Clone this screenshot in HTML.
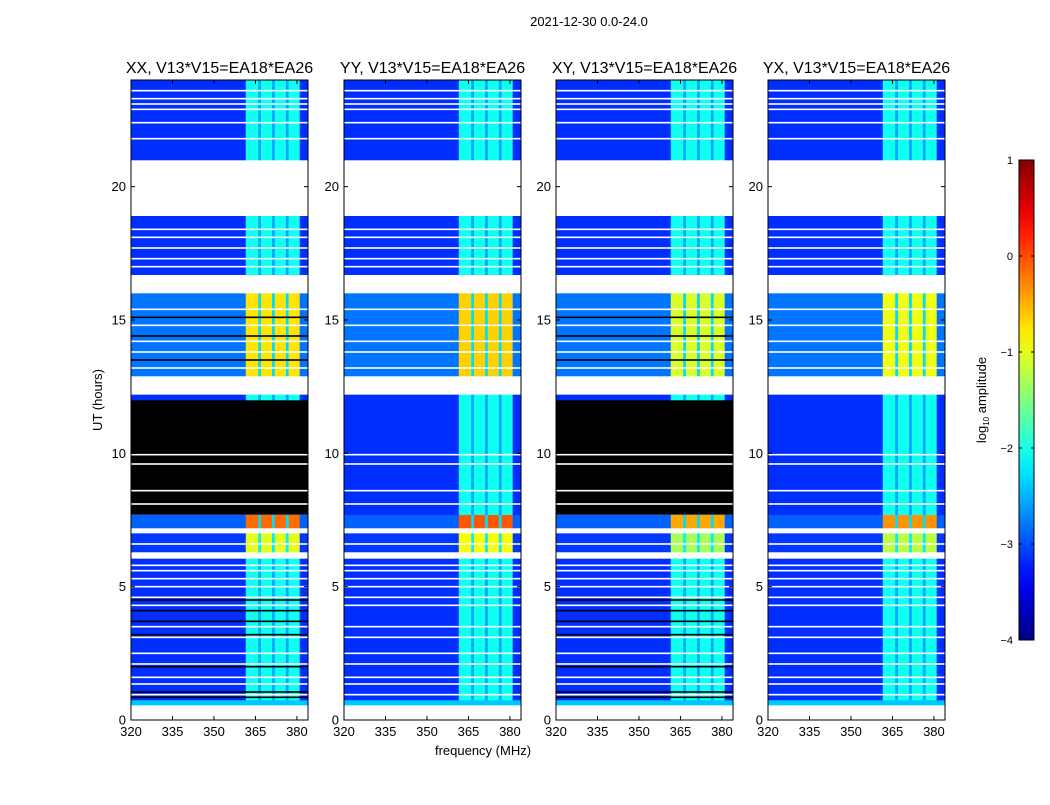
<!DOCTYPE html>
<html><head><meta charset="utf-8"><style>
body{margin:0;background:#fff;}
svg text{font-family:"Liberation Sans",sans-serif;fill:#000;}
</style></head><body>
<svg id="fig" width="1050" height="800" viewBox="0 0 1050 800" xmlns="http://www.w3.org/2000/svg">
<defs><linearGradient id="jetgrad" x1="0" y1="1" x2="0" y2="0"></linearGradient></defs>
<text x="589" y="26" font-size="13" text-anchor="middle">2021-12-30 0.0-24.0</text>
<text transform="translate(102,400) rotate(-90)" font-size="13" text-anchor="middle">UT (hours)</text>
<text x="483" y="755" font-size="13" text-anchor="middle">frequency (MHz)</text>
<g id="panels"></g>
<g id="cbar"></g>
</svg>
<script>
// ---- data ----
const panelNames = ["XX, V13*V15=EA18*EA26","YY, V13*V15=EA18*EA26","XY, V13*V15=EA18*EA26","YX, V13*V15=EA18*EA26"];
const panelLeft = [131,344,556,768];
const freqEdges = [320,361.5,366,367,371,372,376,377,381,384];
// column role: 0 = background, 1 = rfi block, 2 = rfi separator line
const freqRole = [0,1,2,1,2,1,2,1,0];
// time bands (hours)
const bandStart = [0, 0.56, 0.75, 6.05, 6.3, 7.0, 7.2, 7.7, 12.0, 12.2, 12.9, 16.0, 16.7, 18.9, 21.0];
const bandEnd   = [0.56, 0.75, 6.05, 6.3, 7.0, 7.2, 7.7, 12.0, 12.2, 12.9, 16.0, 16.7, 18.9, 21.0, 24.0];
// types: 0 white, 1 cyan strip, 2 quiet, 3 warm, 4 hot-orange, 5 black, 6 hot
const bandTypeXX = [0,1,2,0,3,0,4,5,2,0,6,0,2,0,2];
const bandTypeYY = [0,1,2,0,3,0,4,2,2,0,6,0,2,0,2];
const bandTypeXY = [0,1,2,0,3,0,4,5,2,0,6,0,2,0,2];
const bandTypeYX = [0,1,2,0,3,0,4,2,2,0,6,0,2,0,2];
// log10 amplitude per type (index = type) for background / rfi / separator
const levelBg   = [0,-2.4,-3.15,-3.1,-2.9,0,-2.8];
const levelRfi  = [0,-2.4,-2.05,-1.0,-0.15,0,-0.75];
const levelLine = [0,-2.4,-2.55,-2.2,-2.3,0,-2.3];
const hotScale = [0, 0.1, -0.3, -0.2]; // per-panel shift of hot rfi level
const whiteLines = [0.95,1.35,1.6,2.1,2.5,3.1,3.5,4.3,4.6,5.0,5.3,5.6,5.8,6.6,8.1,8.6,9.6,9.95,13.2,13.8,14.2,14.8,15.4,17.0,17.3,17.7,18.1,18.4,21.8,22.4,22.9,23.1,23.3,23.6];
const blackLines = [0.85,1.05,2.0,3.2,3.7,4.1,4.5,13.5,14.4,15.1];
const yTicks = [0,5,10,15,20];
const xTicks = [320,335,350,365,380];
const cbarTicks = [1,0,-1,-2,-3,-4];

// ---- geometry ----
const TOP=80, BOT=720, W=177;
const yScale = h => BOT - h*(BOT-TOP)/24;
const xScaleFor = L => f => L + (f-320)*W/64;
function jet(v){
  const t=Math.max(0,Math.min(1,(v+4)/5));
  const c=x=>Math.round(255*Math.max(0,Math.min(1,x)));
  return `rgb(${c(Math.min(4*t-1.5,-4*t+4.5))},${c(Math.min(4*t-0.5,-4*t+3.5))},${c(Math.min(4*t+0.5,-4*t+2.5))})`;
}
const NS="http://www.w3.org/2000/svg";
function mk(tag,attrs,parent){const e=document.createElementNS(NS,tag);for(const k in attrs)e.setAttribute(k,attrs[k]);parent.appendChild(e);return e;}
const bandTypes=[bandTypeXX,bandTypeYY,bandTypeXY,bandTypeYX];
const panelsG=document.getElementById('panels');
panelNames.forEach((name,p)=>{
  const L=panelLeft[p], xs=xScaleFor(L);
  const g=mk('g',{},panelsG);
  
  
  bandStart.forEach((s,b)=>{
    const ty=bandTypes[p][b];
    const y1=yScale(bandEnd[b]), y2=yScale(s);
    if(ty===0) return;
    if(ty===5){
      const r=mk('rect',{x:L,y:y1,width:W,height:y2-y1,fill:'#000'},g);
      
      
      return;
    }
    for(let i=0;i<freqRole.length;i++){
      const role=freqRole[i];
      let v = role===0?levelBg[ty]:role===1?levelRfi[ty]:levelLine[ty];
      if(role===1 && (ty===6||ty===4||ty===3)) v+=hotScale[p];
      const x1=xs(freqEdges[i]), x2=xs(freqEdges[i+1]);
      const r=mk('rect',{x:x1,y:y1,width:x2-x1+0.3,height:y2-y1+0.3,fill:jet(v)},g);
      
      
    }
  });
  whiteLines.forEach(h=>{
    const r=mk('rect',{x:L,y:yScale(h)-0.8,width:W,height:1.6,fill:'#fff'},g);
    
    
  });
  if(p===0||p===2) blackLines.forEach(h=>{
    const r=mk('rect',{x:L,y:yScale(h)-0.8,width:W,height:1.6,fill:'#000'},g);
    
    
  });
  const fr=mk('rect',{x:L,y:TOP,width:W,height:BOT-TOP,fill:'none',stroke:'#000','stroke-width':1},g);
  
  
  const t=mk('text',{x:L+W/2,y:73,'font-size':16,'text-anchor':'middle'},g);
  t.textContent=name;
  
  
  yTicks.forEach(v=>{
    const y=yScale(v);
    mk('line',{x1:L,x2:L+4,y1:y,y2:y,stroke:'#000'},g);
    mk('line',{x1:L+W-4,x2:L+W,y1:y,y2:y,stroke:'#000'},g);
    const tt=mk('text',{x:L-5,y:y+4.5,'font-size':13,'text-anchor':'end'},g);
    tt.textContent=v;
    
    
  });
  xTicks.forEach(v=>{
    const x=xs(v);
    mk('line',{x1:x,x2:x,y1:BOT,y2:BOT-4,stroke:'#000'},g);
    mk('line',{x1:x,x2:x,y1:TOP,y2:TOP+4,stroke:'#000'},g);
    const tt=mk('text',{x:x,y:BOT+16,'font-size':13,'text-anchor':'middle'},g);
    tt.textContent=v;
    
    
  });
});
// colorbar
const grad=document.getElementById('jetgrad');
for(let i=0;i<=20;i++){const v=-4+5*i/20;mk('stop',{offset:(i/20),'stop-color':jet(v)},grad);}
const cb=document.getElementById('cbar');
const CT=160,CB=640,CL=1019,CW=15;
const cy=v=>CB-(v+4)*(CB-CT)/5;
const cr=mk('rect',{x:CL,y:CT,width:CW,height:CB-CT,fill:'url(#jetgrad)',stroke:'#000','stroke-width':1},cb);


cbarTicks.forEach(v=>{
  const y=cy(v);
  mk('line',{x1:CL,x2:CL+3,y1:y,y2:y,stroke:'#000'},cb);
  mk('line',{x1:CL+CW-3,x2:CL+CW,y1:y,y2:y,stroke:'#000'},cb);
  const tt=mk('text',{x:1013,y:y+4,'font-size':11,'text-anchor':'end'},cb);
  tt.textContent=v<0?'\u2212'+(-v):v;
  
  
});
const cl=mk('text',{transform:'translate(986,400) rotate(-90)','font-size':13,'text-anchor':'middle'},cb);
cl.innerHTML='log<tspan font-size="8" dy="3">10</tspan><tspan dy="-3"> amplitude</tspan>';


</script>
</body></html>
